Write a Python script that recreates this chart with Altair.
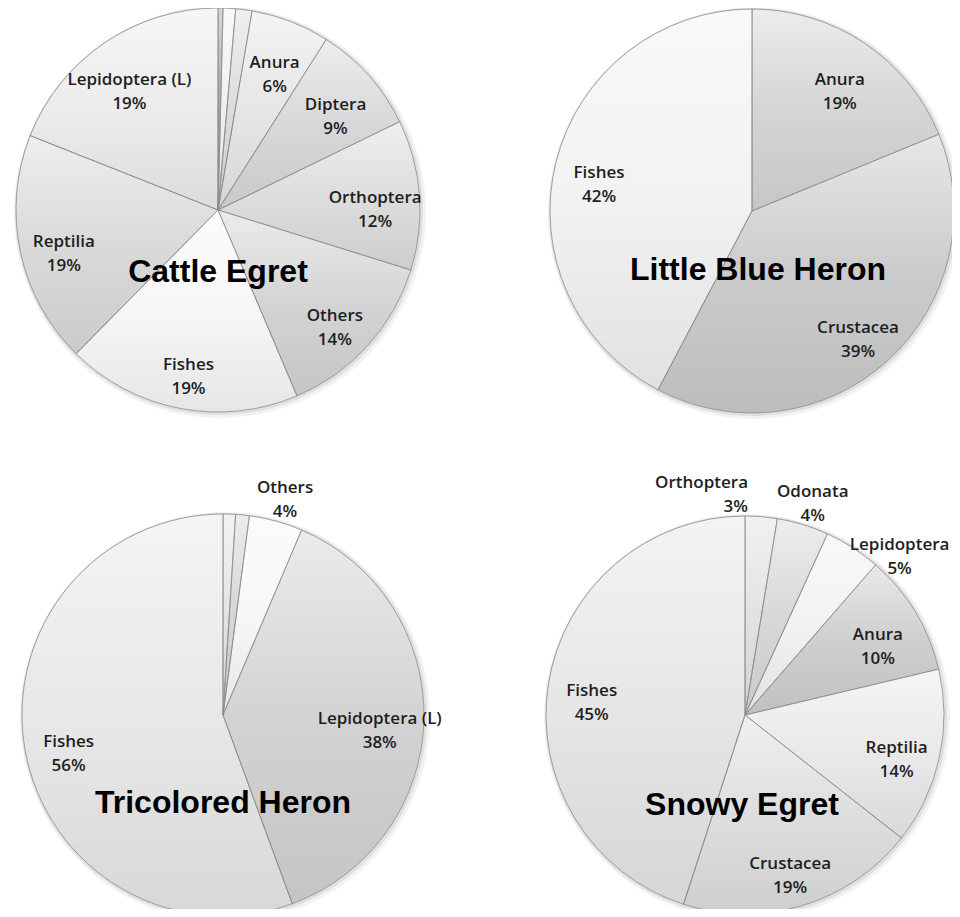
import altair as alt
import pandas as pd

# ---------------- data ----------------
titles = ["Cattle Egret", "Little Blue Heron", "Tricolored Heron", "Snowy Egret"]

cattle_names = ["", "", "", "Anura", "Diptera", "Orthoptera", "Others", "Fishes", "Reptilia", "Lepidoptera (L)"]
cattle_values = [0.4, 1.0, 1.3, 6.3, 8.8, 12.0, 13.8, 18.8, 18.6, 19.0]

blue_names = ["Anura", "Crustacea", "Fishes"]
blue_values = [18.8, 38.9, 42.3]

tri_names = ["", "", "Others", "Lepidoptera (L)", "Fishes"]
tri_values = [1.0, 1.1, 4.3, 38.0, 55.6]

snowy_names = ["Orthoptera", "Odonata", "Lepidoptera", "Anura", "Reptilia", "Crustacea", "Fishes"]
snowy_values = [2.6, 4.2, 4.6, 9.9, 14.3, 19.4, 45.0]

# ---------------- styles ----------------
cattle_colors = ["#a8a8a8", "#f0f0f0", "#dcdcdc", "#e6e6e6", "#d8d8d8", "#dddddd", "#d4d4d4", "#f7f7f7", "#dadada", "#ececec"]
blue_colors = ["#d5d5d5", "#cbcbcb", "#f2f2f2"]
tri_colors = ["#e4e4e4", "#d6d6d6", "#f7f7f7", "#d3d3d3", "#e8e8e8"]
snowy_colors = ["#e2e2e2", "#d8d8d8", "#f2f2f2", "#cfcfcf", "#e9e9e9", "#dedede", "#e6e6e6"]

pies = [
    # title idx, names, values, colors, center x, center y, radius
    (0, cattle_names, cattle_values, cattle_colors, 210, 202, 202),
    (1, blue_names, blue_values, blue_colors, 744, 203, 202),
    (2, tri_names, tri_values, tri_colors, 215, 707, 201),
    (3, snowy_names, snowy_values, snowy_colors, 737, 707, 199),
]
title_pos = [(210, 264), (750, 262), (215, 795), (734, 797)]

all_keys, all_cols = [], []
for pi, names, values, colors, cx, cy, r in pies:
    for i in range(len(names)):
        all_keys.append(f"{pi}|{i}")
        all_cols.append(colors[i])
color_scale = alt.Scale(domain=all_keys, range=all_cols)

gradient = {
    "gradient": "linear", "x1": 0, "y1": 0, "x2": 0, "y2": 1,
    "stops": [
        {"offset": 0, "color": "rgba(255,255,255,0.55)"},
        {"offset": 0.5, "color": "rgba(255,255,255,0)"},
        {"offset": 0.5, "color": "rgba(0,0,0,0)"},
        {"offset": 1, "color": "rgba(0,0,0,0.07)"},
    ],
}

label_font = dict(font="Open Sans", fontSize=17, fontWeight=600, color="#1e1e1e",
                  lineBreak="|", lineHeight=24)

layers = []
for pi, names, values, colors, cx, cy, r in pies:
    df = pd.DataFrame({
        "idx": list(range(len(names))),
        "name": names,
        "value": values,
        "key": [f"{pi}|{i}" for i in range(len(names))],
    })
    # soft shadow
    one = pd.DataFrame({"v": [1]})
    for extra, op, off in [(4, 0.05, 2), (2, 0.08, 1)]:
        layers.append(
            alt.Chart(one).mark_arc(outerRadius=r + extra, color="#000000", opacity=op)
            .encode(theta="v:Q", x=alt.value(cx + off), y=alt.value(cy + off))
        )
    base = (
        alt.Chart(df)
        .transform_joinaggregate(total="sum(value)")
        .transform_window(cum="sum(value)", sort=[alt.SortField("idx")], frame=[None, 0])
        .transform_calculate(
            share="datum.value / datum.total * 100",
            mid="(datum.cum - datum.value / 2) / datum.total * 100",
        )
        .transform_calculate(label="datum.name + '|' + format(datum.share, '.0f') + '%'")
        .transform_calculate(
            inlab="datum.share >= 5.5 && datum.name != '' ? datum.label : ''",
            outleft="datum.share < 5.5 && datum.mid < 3 && datum.name != '' ? datum.label : ''",
            outmid="datum.share < 5.5 && datum.mid >= 3 && datum.mid < 6 && datum.name != '' ? datum.label : ''",
            outright="datum.share < 5.5 && datum.mid >= 6 && datum.name != '' ? datum.label : ''",
        )
        .encode(
            theta=alt.Theta("value:Q", stack=True),
            order=alt.Order("idx:Q"),
            x=alt.value(cx),
            y=alt.value(cy),
        )
    )
    layers.append(
        base.mark_arc(outerRadius=r, strokeWidth=0).encode(
            color=alt.Color("key:N", scale=color_scale, legend=None)
        )
    )
    layers.append(
        base.mark_arc(outerRadius=r, fill=gradient, stroke="#8c8c8c", strokeWidth=0.8)
    )
    layers.append(base.mark_text(radius=0.78 * r, **label_font).encode(text="inlab:N"))
    layers.append(base.mark_text(radius=1.17 * r, **label_font).encode(text="outmid:N"))
    layers.append(
        base.mark_text(radius=1.17 * r, align="right", dx=-16, **label_font).encode(text="outleft:N")
    )
    layers.append(
        base.mark_text(radius=1.12 * r, dx=34, dy=17, **label_font).encode(text="outright:N")
    )
    tx, ty = title_pos[pi]
    layers.append(
        alt.Chart(pd.DataFrame({"t": [titles[pi]]}))
        .mark_text(font="Liberation Sans", fontWeight="bold", fontSize=32, color="#000000")
        .encode(text="t:N", x=alt.value(tx), y=alt.value(ty))
    )

chart = (
    alt.layer(*layers)
    .resolve_scale(theta="independent")
    .properties(width=944, height=901, padding=0, autosize=alt.AutoSizeParams(type="none"))
    .configure_view(stroke=None)
)

chart.save("out.html", embed_options={"renderer": "svg", "actions": False})
